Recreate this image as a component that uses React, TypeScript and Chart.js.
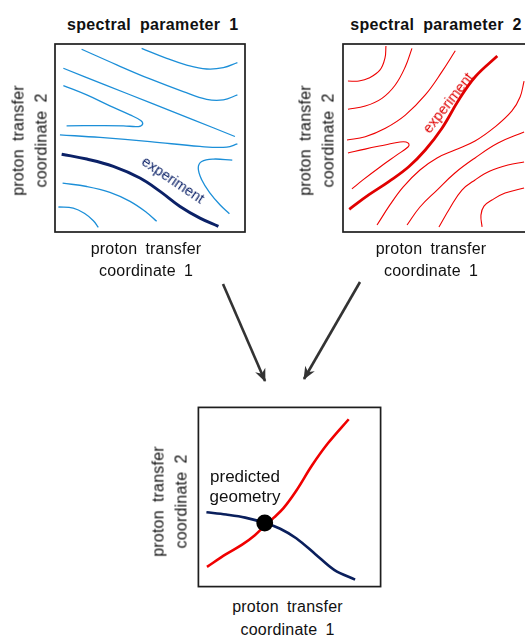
import React, { useEffect, useRef } from "react";
import { Chart, registerables } from "chart.js";

Chart.register(...registerables);

// ---------- data (axes are unitless 0..100 "proton transfer coordinates") ----------
// spectral parameter 1 contours
const p1ContourA = [[45.6, 97.7], [58.8, 92.4], [69.3, 88.8], [79.8, 86.7], [88.6, 87.4], [96, 90.1]];
const p1ContourB = [[14, 97.2], [32.5, 88.9], [50, 81.4], [67.5, 74.7], [79.8, 70.6], [88.6, 70.3], [96, 72.9]];
const p1ContourC = [[4.4, 87.1], [27, 78], [50, 68.8], [72.5, 59.8], [94.7, 50.8]];
const p1ContourD = [[4.4, 77.9], [16.7, 72.9], [28.9, 67.1], [39.5, 62.3], [45.1, 59.3], [46.1, 57.3], [43.9, 56.1], [36, 56.5], [23.7, 56.6], [6.1, 56.5]];
const p1ContourE = [[2.6, 51.7], [23.7, 50.3], [50, 48.1], [76.3, 45.5], [90.4, 45.1], [96, 46.9]];
const p1ContourG = [[93.3, 38.2], [83.3, 38.8], [77.2, 37.5], [75.4, 34], [77.2, 27.8], [81.6, 20.7], [86.8, 14.5], [91.8, 9.7]];
const p1ContourH = [[4, 26], [16.7, 24.2], [28.9, 21.1], [39.5, 16.3], [48.2, 10.4], [53.5, 5.7]];
const p1ContourI = [[1.8, 13.3], [9.6, 12.7], [15.8, 9.7], [20.2, 6], [22.8, 2.5]];
const p1Experiment = [[3.5, 41.4], [16.7, 38.8], [30.7, 34.9], [44.7, 28.7], [55.3, 21.6], [65.8, 13.6], [76.3, 7.4], [86, 3]];

// spectral parameter 2 contours
const p2ContourA = [[22.6, 98.9], [22.1, 92.6], [19.5, 86.2], [13.7, 81.9], [8.4, 80.3], [2.6, 80.3]];
const p2ContourB = [[36.3, 97.7], [32.8, 87.9], [27.5, 78.2], [20.5, 71.1], [11.7, 67], [2.6, 65.3]];
const p2ContourC = [[59.1, 96.4], [52.1, 85.3], [43.3, 72.9], [32.8, 62.2], [22.3, 55.2], [11.7, 50.7], [2.1, 48.9]];
const p2ContourD = [[2.6, 42], [11.6, 44.1], [22.1, 46.3], [30, 47.9], [33.2, 47.9], [34.7, 46.8], [34.2, 45.2], [28.4, 41], [19.5, 34.6], [10.5, 27.7], [4.7, 22.9]];
const p2ContourE = [[17.9, 3.7], [24.7, 14.4], [31.6, 23.9], [40.5, 33], [49.5, 39.4], [58.9, 43.6], [69.5, 48.4], [80, 55.9], [88.9, 64.4], [93.2, 71.8], [95.3, 80.3]];
const p2ContourF = [[33.7, 3.7], [40.5, 13.3], [49.5, 22.3], [58.9, 31.4], [69.5, 39.4], [81.6, 47.3], [95.3, 53.2]];
const p2ContourG = [[50.5, 2.7], [56.3, 12.8], [62.6, 22.3], [69.5, 27.7], [77.4, 32.4], [86.8, 35.6], [95.3, 37.2]];
const p2ContourH = [[73.2, 2.7], [72.6, 9], [74.2, 13.8], [78.4, 17], [85.3, 20.7], [95.3, 23.4]];
const p2Experiment = [[3.3, 12.1], [13.5, 19.7], [24.1, 26.8], [34.6, 34.7], [43.3, 43.6], [52.1, 55.2], [60.9, 70.2], [69.6, 82.6], [81.2, 93.6]];

// combined panel
const p3Param2 = [[4.7, 11], [15.2, 18.1], [24, 23.4], [31, 28.7], [36.5, 34], [41.4, 38.5], [46.7, 43.8], [53.7, 53.5], [62.4, 67.7], [71.2, 80.1], [82.5, 93.4]];
const p3Param1 = [[4.4, 41.5], [15.2, 40.2], [25.7, 38.5], [36.5, 35.5], [44.9, 32.3], [53.7, 27], [64.2, 18.1], [74.7, 9.2], [86, 3.9]];
const p3Predicted = [[36.4, 35.5]];

// flow arrows (arrow canvas units)
const arrowFromParam1 = [[28, 14], [70, 111]];
const arrowFromParam2 = [[165, 12], [109, 109]];

// labels
const titles = ["spectral parameter 1", "spectral parameter 2"];
const axisX = ["proton transfer", "coordinate 1"];
const axisY = ["proton transfer", "coordinate 2"];
const expLabel = "experiment";
const predictedLabel = ["predicted", "geometry"];

// ---------- styles ----------
const FONT = '"Liberation Sans", Arial, Helvetica, sans-serif';
const BLUE = "#1c8fd8";
const NAVY = "#0b2167";
const RED = "#ee0000";
const PAD = 4;

const toXY = (a: number[][]) => a.map(([x, y]) => ({ x, y }));

const framePlugin = {
  id: "frame",
  afterDraw(chart: any) {
    const { ctx, chartArea } = chart;
    const { left, top, right, bottom } = chartArea;
    ctx.save();
    ctx.strokeStyle = "#1e1e1e";
    ctx.lineWidth = 1.7;
    ctx.strokeRect(left, top, right - left, bottom - top);
    ctx.restore();
  },
};

const arrowPlugin = {
  id: "arrowHeads",
  afterDatasetsDraw(chart: any) {
    const ctx = chart.ctx;
    chart.data.datasets.forEach((ds: any, i: number) => {
      const pts = chart.getDatasetMeta(i).data;
      const a = pts[pts.length - 2];
      const b = pts[pts.length - 1];
      const ang = Math.atan2(b.y - a.y, b.x - a.x);
      ctx.save();
      ctx.translate(b.x, b.y);
      ctx.rotate(ang);
      ctx.beginPath();
      ctx.moveTo(1, 0);
      ctx.lineTo(-12, -5.5);
      ctx.lineTo(-8, 0);
      ctx.lineTo(-12, 5.5);
      ctx.closePath();
      ctx.fillStyle = ds.borderColor;
      ctx.fill();
      ctx.restore();
    });
  },
};

type Box = { left: number; top: number; w: number; h: number };

function line(data: number[][], color: string, width: number, extra: any = {}) {
  return {
    data: toXY(data),
    borderColor: color,
    borderWidth: width,
    tension: 0.4,
    pointRadius: 0,
    fill: false,
    order: 1,
    ...extra,
  };
}

function ChartCanvas({
  box,
  makeDatasets,
  xMax = 100,
  yMax = 100,
  yReverse = false,
  frame = true,
  extraPlugins = [],
}: {
  box: Box;
  makeDatasets: () => any[];
  xMax?: number;
  yMax?: number;
  yReverse?: boolean;
  frame?: boolean;
  extraPlugins?: any[];
}) {
  const ref = useRef<HTMLCanvasElement>(null);
  useEffect(() => {
    if (!ref.current) return;
    const chart = new Chart(ref.current, {
      type: "line",
      data: { datasets: makeDatasets() },
      options: {
        animation: false,
        responsive: false,
        events: [],
        layout: { padding: PAD },
        scales: {
          x: { type: "linear", min: 0, max: xMax, display: false },
          y: { type: "linear", min: 0, max: yMax, display: false, reverse: yReverse },
        },
        plugins: { legend: { display: false }, tooltip: { enabled: false }, title: { display: false } },
      },
      plugins: frame ? [framePlugin, ...extraPlugins] : extraPlugins,
    } as any);
    return () => chart.destroy();
  }, []);
  const W = box.w + 2 * PAD;
  const H = box.h + 2 * PAD;
  return (
    <canvas
      ref={ref}
      width={W}
      height={H}
      style={{ position: "absolute", left: box.left - PAD, top: box.top - PAD, width: W, height: H }}
    />
  );
}

function XLabel({ cx, top }: { cx: number; top: number }) {
  return (
    <div
      style={{
        position: "absolute",
        left: cx - 110,
        top,
        width: 220,
        textAlign: "center",
        fontSize: 16,
        lineHeight: "22.5px",
        wordSpacing: "3.5px",
        letterSpacing: "0.2px",
        color: "#111",
        whiteSpace: "nowrap",
      }}
    >
      {axisX[0]}
      <br />
      {axisX[1]}
    </div>
  );
}

function YLabel({ cx, cy }: { cx: number; cy: number }) {
  return (
    <div
      style={{
        position: "absolute",
        left: cx - 110,
        top: cy - 22.5,
        width: 220,
        height: 45,
        textAlign: "center",
        fontSize: 16,
        lineHeight: "22.5px",
        wordSpacing: "3.5px",
        letterSpacing: "0.2px",
        color: "#111",
        whiteSpace: "nowrap",
        transform: "rotate(-90deg)",
      }}
    >
      {axisY[0]}
      <br />
      {axisY[1]}
    </div>
  );
}

function Title({ cx, text }: { cx: number; text: string }) {
  return (
    <div
      style={{
        position: "absolute",
        left: cx - 120,
        top: 16.4,
        width: 240,
        textAlign: "center",
        fontSize: 16,
        fontWeight: "bold",
        lineHeight: "18px",
        letterSpacing: "0.35px",
        wordSpacing: "4px",
        color: "#111",
        whiteSpace: "nowrap",
      }}
    >
      {text}
    </div>
  );
}

function CurveLabel({ cx, cy, angle, color }: { cx: number; cy: number; angle: number; color: string }) {
  return (
    <div
      style={{
        position: "absolute",
        left: cx,
        top: cy,
        fontSize: 14.5,
        lineHeight: 1,
        color,
        whiteSpace: "nowrap",
        transform: `translate(-50%, -50%) rotate(${angle}deg)`,
      }}
    >
      {expLabel}
    </div>
  );
}

const box1: Box = { left: 55, top: 44, w: 190, h: 188 };
const box2: Box = { left: 343, top: 44, w: 190, h: 188 };
const box3: Box = { left: 194, top: 403, w: 191, h: 188 };
const boxArrows: Box = { left: 195, top: 270, w: 190, h: 120 };

export default function App() {
  return (
    <div
      style={{
        position: "absolute",
        left: 0,
        top: 0,
        width: 525,
        height: 635,
        overflow: "hidden",
        background: "#fff",
        fontFamily: FONT,
      }}
    >
      <ChartCanvas
        box={box1}
        makeDatasets={() => [
          ...[p1ContourA, p1ContourB, p1ContourC, p1ContourD, p1ContourE, p1ContourG, p1ContourH, p1ContourI].map((d) =>
            line(d, BLUE, 1.3)
          ),
          line(p1Experiment, NAVY, 3, { order: 0 }),
        ]}
      />
      <ChartCanvas
        box={box2}
        makeDatasets={() => [
          ...[p2ContourA, p2ContourB, p2ContourC, p2ContourD, p2ContourE, p2ContourF, p2ContourG, p2ContourH].map((d) =>
            line(d, RED, 1.1)
          ),
          line(p2Experiment, "#e00000", 2.8, { order: 0 }),
        ]}
      />
      <ChartCanvas
        box={boxArrows}
        xMax={190}
        yMax={120}
        yReverse
        frame={false}
        extraPlugins={[arrowPlugin]}
        makeDatasets={() => [
          line(arrowFromParam1, "#333333", 2.6, { tension: 0, borderCapStyle: "butt" }),
          line(arrowFromParam2, "#333333", 2.6, { tension: 0, borderCapStyle: "butt" }),
        ]}
      />
      <ChartCanvas
        box={box3}
        makeDatasets={() => [
          {
            data: toXY(p3Predicted),
            showLine: false,
            pointRadius: 8.4,
            pointBackgroundColor: "#000",
            pointBorderWidth: 0,
            borderColor: "#000",
            order: 0,
          },
          line(p3Param2, "#f00000", 2.6, { tension: 0.35 }),
          line(p3Param1, "#0a1f5c", 2.6, { tension: 0.35 }),
        ]}
      />

      <Title cx={152.7} text={titles[0]} />
      <Title cx={436} text={titles[1]} />

      <XLabel cx={146} top={237.9} />
      <XLabel cx={431} top={237.9} />
      <XLabel cx={287.5} top={596.3} />

      <YLabel cx={29.9} cy={140.5} />
      <YLabel cx={316.9} cy={140.5} />
      <YLabel cx={169.9} cy={501} />

      <CurveLabel cx={173} cy={180} angle={34} color={NAVY} />
      <CurveLabel cx={447.5} cy={102.5} angle={-52} color="#e00000" />

      <div
        style={{
          position: "absolute",
          left: 245 - 60,
          top: 466.6,
          width: 120,
          textAlign: "center",
          fontSize: 17,
          lineHeight: "20.5px",
          color: "#111",
          whiteSpace: "nowrap",
        }}
      >
        {predictedLabel[0]}
        <br />
        {predictedLabel[1]}
      </div>
    </div>
  );
}
